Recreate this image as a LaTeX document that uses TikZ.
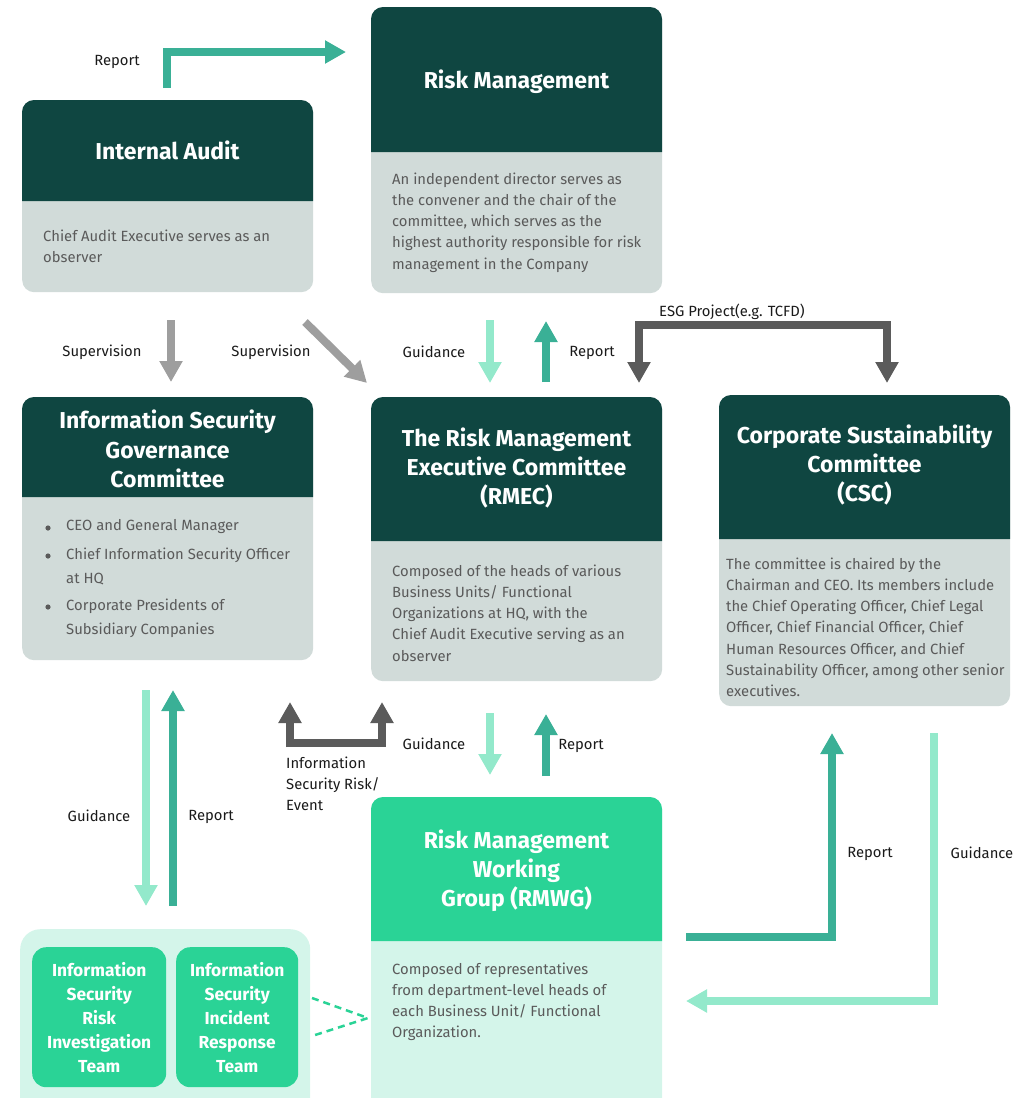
\documentclass[tikz,border=0pt]{standalone}
\usepackage{fontspec}
\setmainfont{Fira Sans}
\usetikzlibrary{arrows.meta,calc}
\definecolor{dark}{HTML}{0F4641}
\definecolor{greybody}{HTML}{D1DBD9}
\definecolor{green}{HTML}{2AD396}
\definecolor{lightgreen}{HTML}{D4F5EA}
\definecolor{reportc}{HTML}{3AB096}
\definecolor{guidec}{HTML}{93E9CB}
\definecolor{supc}{HTML}{9E9E9E}
\definecolor{esgc}{HTML}{5B5B5B}
\definecolor{bodytxt}{HTML}{5A5A5A}
\definecolor{lbltxt}{HTML}{1A1A1A}
\begin{document}
\begin{tikzpicture}[x=1pt,y=-1pt,
  boxbg/.style={rectangle, rounded corners=12pt, anchor=north west, inner sep=0pt, draw=none},
  bodytext/.style={text=bodytxt, font=\fontsize{14.8}{21.2}\selectfont, align=left, anchor=north west, inner sep=0pt},
  titletext/.style={text=white, font=\fontsize{23}{29.2}\selectfont\bfseries, align=center, inner sep=0pt},
  teamtext/.style={text=white, font=\fontsize{17.4}{24}\selectfont\bfseries, align=center, inner sep=0pt},
  lbl/.style={text=lbltxt, font=\fontsize{14.8}{21}\selectfont, inner sep=0pt},
  arr/.style={line width=8pt, line join=miter, -{Triangle[width=22pt,length=21pt]}},
  dashconn/.style={draw=green, line width=2.5pt, dash pattern=on 7pt off 5pt}
]
\useasboundingbox (0,0) rectangle (1029,1098);
\clip (0,0) rectangle (1029,1098);

% ---------- boxes ----------
% Internal Audit
\node[boxbg, fill=greybody, minimum width=291pt, minimum height=192pt] (ia) at (22,100) {};
\fill[dark] (22,201) [rounded corners=12pt] -- (22,100) -- (313,100) [sharp corners] -- (313,201) -- cycle;
\node[titletext] (iat) at (167.5,150) {Internal Audit};
\node[bodytext] (iab) at (43,229.5) {Chief Audit Executive serves as an\\observer};

% Risk Management
\node[boxbg, fill=greybody, minimum width=291pt, minimum height=286pt] (rm) at (371,7) {};
\fill[dark] (371,152) [rounded corners=12pt] -- (371,7) -- (662,7) [sharp corners] -- (662,152) -- cycle;
\node[titletext] (rmt) at (516.5,82) {Risk Management};
\node[bodytext] (rmb) at (392,172.5) {An independent director serves as\\the convener and the chair of the\\committee, which serves as the\\highest authority responsible for risk\\management in the Company};

% ISGC
\node[boxbg, fill=greybody, minimum width=291pt, minimum height=263pt] (isgc) at (22,397) {};
\fill[dark] (22,497) [rounded corners=12pt] -- (22,397) -- (313,397) [sharp corners] -- (313,497) -- cycle;
\node[titletext] (isgct) at (167.5,449) {Information Security\\Governance\\Committee};
\fill[bodytxt] (48,528) circle (2.6pt);
\fill[bodytxt] (48,556) circle (2.6pt);
\fill[bodytxt] (48,607) circle (2.6pt);
\node[bodytext, font=\fontsize{14.8}{24}\selectfont] (isgc1) at (66,519.5) {CEO and General Manager};
\node[bodytext, font=\fontsize{14.8}{24}\selectfont] (isgc2) at (66,547.5) {Chief Information Security Officer\\at HQ};
\node[bodytext, font=\fontsize{14.8}{24}\selectfont] (isgc3) at (66,598.5) {Corporate Presidents of\\Subsidiary Companies};

% RMEC
\node[boxbg, fill=greybody, minimum width=291pt, minimum height=284pt] (rmec) at (371,397) {};
\fill[dark] (371,541) [rounded corners=12pt] -- (371,397) -- (662,397) [sharp corners] -- (662,541) -- cycle;
\node[titletext] (rmect) at (516.5,468) {The Risk Management\\Executive Committee\\(RMEC)};
\node[bodytext] (rmecb) at (392,564.5) {Composed of the heads of various\\Business Units/ Functional\\Organizations at HQ, with the\\Chief Audit Executive serving as an\\observer};

% CSC
\node[boxbg, fill=greybody, minimum width=291pt, minimum height=311pt] (csc) at (719,395) {};
\fill[dark] (719,539) [rounded corners=12pt] -- (719,395) -- (1010,395) [sharp corners] -- (1010,539) -- cycle;
\node[titletext] (csct) at (864.5,465) {Corporate Sustainability\\Committee\\(CSC)};
\node[bodytext] (cscb) at (726,557.5) {The committee is chaired by the\\Chairman and CEO. Its members include\\the Chief Operating Officer, Chief Legal\\Officer, Chief Financial Officer, Chief\\Human Resources Officer, and Chief\\Sustainability Officer, among other senior\\executives.};

% RMWG
\node[boxbg, fill=lightgreen, minimum width=291pt, minimum height=320pt] (rmwg) at (371,797) {};
\fill[green] (371,941) [rounded corners=12pt] -- (371,797) -- (662,797) [sharp corners] -- (662,941) -- cycle;
\node[titletext] (rmwgt) at (516.5,871) {Risk Management\\Working\\Group (RMWG)};
\node[bodytext] (rmwgb) at (392,962.5) {Composed of representatives\\from department-level heads of\\each Business Unit/ Functional\\Organization.};

% Teams
\node[boxbg, fill=lightgreen, rounded corners=20pt, minimum width=290pt, minimum height=190pt] (teams) at (20,929) {};
\node[boxbg, fill=green, rounded corners=14pt, minimum width=134pt, minimum height=140pt] (team1) at (32,947) {};
\node[boxbg, fill=green, rounded corners=14pt, minimum width=122pt, minimum height=140pt] (team2) at (176,947) {};
\node[teamtext] (team1t) at (team1.center) {Information\\Security\\Risk\\Investigation\\Team};
\node[teamtext] (team2t) at (team2.center) {Information\\Security\\Incident\\Response\\Team};

% ---------- connector coordinates ----------
\coordinate (iaRep0) at (167,88);
\coordinate (iaRep1) at (167,52);
\coordinate (iaRep2) at (346,52);

\coordinate (sup1a) at (171,320);
\coordinate (sup1b) at (171,382);
\coordinate (sup2a) at (305,322);
\coordinate (sup2b) at (367,383);

\coordinate (g1a) at (490,320);
\coordinate (g1b) at (490,383);
\coordinate (r1a) at (546,382);
\coordinate (r1b) at (546,321);

\coordinate (esgL) at (639,383);
\coordinate (esgLt) at (639,325);
\coordinate (esgRt) at (887,325);
\coordinate (esgR) at (887,383);

\coordinate (g2a) at (490,713);
\coordinate (g2b) at (490,775);
\coordinate (r2a) at (546,776);
\coordinate (r2b) at (546,714);

\coordinate (isL) at (290,702);
\coordinate (isLb) at (290,743);
\coordinate (isRb) at (382,743);
\coordinate (isR) at (382,702);

\coordinate (g3a) at (146,690);
\coordinate (g3b) at (146,906);
\coordinate (r3a) at (173,906);
\coordinate (r3b) at (173,690);

\coordinate (r4a) at (686,937);
\coordinate (r4c) at (832,937);
\coordinate (r4b) at (832,733);

\coordinate (g4a) at (934,733);
\coordinate (g4c) at (934,1001);
\coordinate (g4b) at (686,1001);

\coordinate (d1) at (312,998);
\coordinate (d2) at (312,1036);
\coordinate (dm) at (368,1018);

% ---------- connectors ----------
\draw[arr, reportc] (iaRep0) -- (iaRep1) -- (iaRep2);
\draw[arr, supc] (sup1a) -- (sup1b);
\draw[arr, supc] (sup2a) -- (sup2b);
\draw[arr, guidec] (g1a) -- (g1b);
\draw[arr, reportc] (r1a) -- (r1b);
\draw[line width=8pt, esgc] ($(esgLt)+(-4,0)$) -- ($(esgRt)+(4,0)$);
\draw[arr, esgc] ($(esgLt)+(0,-4)$) -- (esgL);
\draw[arr, esgc] ($(esgRt)+(0,-4)$) -- (esgR);
\draw[arr, guidec] (g2a) -- (g2b);
\draw[arr, reportc] (r2a) -- (r2b);
\draw[line width=8pt, esgc] ($(isLb)+(-4,0)$) -- ($(isRb)+(4,0)$);
\draw[arr, esgc] ($(isLb)+(0,4)$) -- (isL);
\draw[arr, esgc] ($(isRb)+(0,4)$) -- (isR);
\draw[arr, guidec] (g3a) -- (g3b);
\draw[arr, reportc] (r3a) -- (r3b);
\draw[arr, reportc] (r4a) -- (r4c) -- (r4b);
\draw[arr, guidec] (g4a) -- (g4c) -- (g4b);
\draw[dashconn] (d1) -- (dm) -- (d2);

% ---------- labels ----------
\node[lbl] (l1) at (117,61.5) {Report};
\node[lbl] (l2) at (102,352) {Supervision};
\node[lbl] (l3) at (271,352) {Supervision};
\node[lbl] (l4) at (434,351.5) {Guidance};
\node[lbl] (l5) at (592,352.5) {Report};
\node[lbl] (l6) at (732,312) {ESG Project(e.g. TCFD)};
\node[lbl] (l7) at (434,743.5) {Guidance};
\node[lbl] (l8) at (581,745.5) {Report};
\node[lbl, align=left, anchor=north west] (l9) at (286,757) {Information\\Security Risk/\\Event};
\node[lbl] (l10) at (99,815.5) {Guidance};
\node[lbl] (l11) at (211,816.5) {Report};
\node[lbl] (l12) at (870,853.5) {Report};
\node[lbl] (l13) at (982,852.5) {Guidance};
\end{tikzpicture}
\end{document}
